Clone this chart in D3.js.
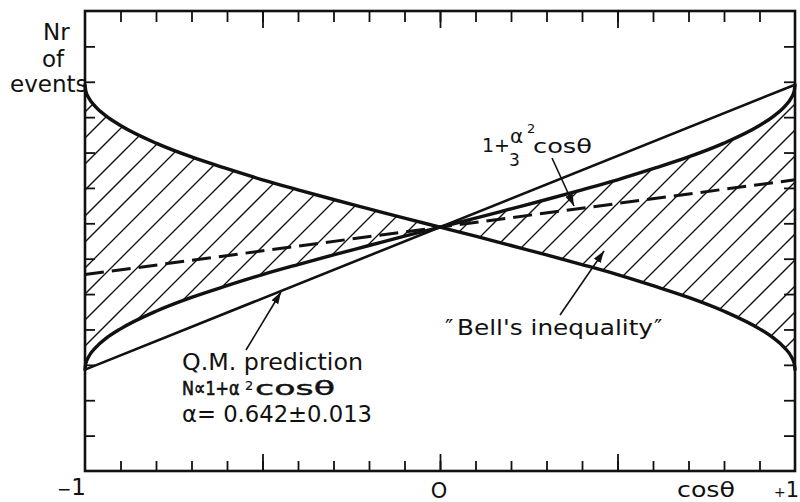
<!DOCTYPE html>
<html><head><meta charset="utf-8">
<script src="https://cdn.jsdelivr.net/npm/d3@7"></script>
<style>
body{margin:0;background:#fff}
svg{display:block}
text{font-family:"DejaVu Sans",sans-serif;fill:#111}
</style>
</head><body>
<svg id="c" width="800" height="502"></svg>
<script>
// ---- data ----
const cosTheta   = [-1,-0.998,-0.99,-0.97,-0.94,-0.9,-0.8,-0.7,-0.6,-0.5,-0.4,-0.3,-0.2,-0.1,0,0.1,0.2,0.3,0.4,0.5,0.6,0.7,0.8,0.9,0.94,0.97,0.99,0.998,1];
const bellFalling= [1.412,1.395,1.375,1.348,1.321,1.294,1.243,1.203,1.169,1.137,1.108,1.080,1.053,1.026,1.000,0.974,0.947,0.920,0.892,0.863,0.831,0.797,0.757,0.706,0.679,0.652,0.625,0.605,0.588];
const bellRising = [0.588,0.605,0.625,0.652,0.679,0.706,0.757,0.797,0.831,0.863,0.892,0.920,0.947,0.974,1.000,1.026,1.053,1.080,1.108,1.137,1.169,1.203,1.243,1.294,1.321,1.348,1.375,1.395,1.412];
const qmX = [-1, 1];
const qmN = [0.588, 1.412];          // 1 + α² cosθ
const thirdX = [-1, 1];
const thirdN = [0.863, 1.137];       // 1 + α²/3 cosθ
const xLabelValues = [-1, 0, 1];
const xLabelTexts  = ["\u22121", "O", "+1"];
const xMinorTicks = [-0.9,-0.8,-0.7,-0.6,-0.5,-0.4,-0.3,-0.2,-0.1,0,0.1,0.2,0.3,0.4,0.5,0.6,0.7,0.8,0.9];
const xMajorTicks = [-0.5, 0, 0.5];

// ---- layout ----
const L = 85, R = 795, T = 11, B = 471;
const svg = d3.select("#c");
const x = d3.scaleLinear().domain([-1, 1]).range([L, R]);
const y = d3.scaleLinear().domain([0.295, 1.625]).range([B, T]);
const ySpan = y.domain()[1] - y.domain()[0];
const yTicks = d3.range(1, 13).map(k => y.domain()[0] + k * ySpan / 13);
const ink = "#111";

const defs = svg.append("defs");
defs.append("marker").attr("id","arr").attr("markerUnits","userSpaceOnUse")
  .attr("markerWidth",14).attr("markerHeight",10).attr("refX",12).attr("refY",4)
  .attr("orient","auto")
  .append("path").attr("d","M0,0 L12,4 L0,8 Z").attr("fill",ink);

const pts = cosTheta.map((c,i)=>({c, a:bellFalling[i], b:bellRising[i]}));
const area = d3.area().x(d=>x(d.c)).y0(d=>y(d.a)).y1(d=>y(d.b)).curve(d3.curveMonotoneX);
defs.append("clipPath").attr("id","band").append("path").attr("d", area(pts));

// hatching
const hatch = svg.append("g").attr("clip-path","url(#band)");
for (let c0 = 353 - 26*40; c0 < 353 + 26*40; c0 += 26) {
  hatch.append("line")
    .attr("x1", c0 - B).attr("y1", B)
    .attr("x2", c0 - T).attr("y2", T)
    .attr("stroke", ink).attr("stroke-width", 1.3);
}

const line = d3.line().x(d=>x(d[0])).y(d=>y(d[1]));
const curve = d3.line().x(d=>x(d.c)).y(d=>y(d.v)).curve(d3.curveMonotoneX);

svg.append("path").attr("d", line(qmX.map((v,i)=>[v, qmN[i]])))
  .attr("fill","none").attr("stroke",ink).attr("stroke-width",2.6);
svg.append("path").attr("d", line(thirdX.map((v,i)=>[v, thirdN[i]])))
  .attr("fill","none").attr("stroke",ink).attr("stroke-width",3)
  .attr("stroke-dasharray","19,8");
svg.append("path").attr("d", curve(pts.map(d=>({c:d.c, v:d.a}))))
  .attr("fill","none").attr("stroke",ink).attr("stroke-width",3.4).attr("stroke-linecap","round");
svg.append("path").attr("d", curve(pts.map(d=>({c:d.c, v:d.b}))))
  .attr("fill","none").attr("stroke",ink).attr("stroke-width",3.4).attr("stroke-linecap","round");

svg.append("rect").attr("x",L).attr("y",T).attr("width",R-L).attr("height",B-T)
  .attr("fill","none").attr("stroke",ink).attr("stroke-width",2.6);

function styleAxis(g){ g.select(".domain").remove(); g.selectAll("text").remove();
  g.selectAll("line").attr("stroke",ink).attr("stroke-width",1.8); }
svg.append("g").attr("transform",`translate(0,${B})`)
  .call(d3.axisBottom(x).tickValues(xMinorTicks).tickSize(-10)).call(styleAxis);
svg.append("g").attr("transform",`translate(0,${B})`)
  .call(d3.axisBottom(x).tickValues(xMajorTicks).tickSize(-17)).call(styleAxis);
svg.append("g").attr("transform",`translate(0,${T})`)
  .call(d3.axisTop(x).tickValues(xMinorTicks).tickSize(-11)).call(styleAxis);
svg.append("g").attr("transform",`translate(0,${T})`)
  .call(d3.axisTop(x).tickValues(xMajorTicks).tickSize(-17)).call(styleAxis);
svg.append("g").attr("transform",`translate(${L},0)`)
  .call(d3.axisLeft(y).tickValues(yTicks).tickSize(-10)).call(styleAxis);
svg.append("g").attr("transform",`translate(${R},0)`)
  .call(d3.axisRight(y).tickValues(yTicks).tickSize(-11)).call(styleAxis);

// axis labels
const m1 = svg.append("text").attr("x", x(xLabelValues[0]) + 1).attr("y", 495).attr("text-anchor","end");
m1.append("tspan").attr("font-size",17).text(xLabelTexts[0].slice(0,1));
m1.append("tspan").attr("font-size",23).text(xLabelTexts[0].slice(1));
svg.append("text").attr("x", x(xLabelValues[1]) - 1).attr("y", 498)
  .attr("text-anchor","middle").attr("font-size",21).text(xLabelTexts[1]);
const p1 = svg.append("text").attr("x", 774).attr("y", 497);
p1.append("tspan").attr("font-size",14).text(xLabelTexts[2].slice(0,1));
p1.append("tspan").attr("font-size",21).text(xLabelTexts[2].slice(1));
svg.append("text").attr("x",677).attr("y",497).attr("font-size",22)
  .attr("textLength",58).attr("lengthAdjust","spacingAndGlyphs").text("cos\u03b8");

// y title
svg.append("text").attr("x",43).attr("y",40).attr("font-size",23).text("Nr");
svg.append("text").attr("x",42).attr("y",67).attr("font-size",23).text("of");
svg.append("text").attr("x",10).attr("y",92).attr("font-size",23).text("events");

// 1 + α²/3 cosθ label
svg.append("text").attr("x",482).attr("y",152).attr("font-size",19).text("1+");
svg.append("text").attr("x",510).attr("y",143).attr("font-size",20).text("\u03b1");
svg.append("text").attr("x",527).attr("y",133).attr("font-size",13).text("2");
svg.append("text").attr("x",509).attr("y",166).attr("font-size",17).text("3");
svg.append("text").attr("x",533).attr("y",153).attr("font-size",20)
  .attr("textLength",59).attr("lengthAdjust","spacingAndGlyphs").text("cos\u03b8");
svg.append("line").attr("x1",552).attr("y1",158).attr("x2",574).attr("y2",206)
  .attr("stroke",ink).attr("stroke-width",1.6).attr("marker-end","url(#arr)");

// Q.M. prediction label
svg.append("text").attr("x",182).attr("y",370).attr("font-size",23)
  .attr("textLength",181).attr("lengthAdjust","spacingAndGlyphs").text("Q.M. prediction");
svg.append("text").attr("transform","translate(182,395) scale(0.8,1)").attr("font-size",20)
  .attr("stroke",ink).attr("stroke-width",0.7).text("N\u221d1+\u03b1");
svg.append("text").attr("x",245).attr("y",390).attr("font-size",13)
  .attr("stroke",ink).attr("stroke-width",0.2).text("2");
svg.append("text").attr("x",255).attr("y",395).attr("font-size",20)
  .attr("stroke",ink).attr("stroke-width",0.4)
  .attr("textLength",80).attr("lengthAdjust","spacingAndGlyphs").text("cos\u03b8");
svg.append("text").attr("x",182).attr("y",422).attr("font-size",23)
  .attr("textLength",190).attr("lengthAdjust","spacingAndGlyphs").text("\u03b1= 0.642\u00b10.013");
svg.append("line").attr("x1",246).attr("y1",350).attr("x2",281).attr("y2",292)
  .attr("stroke",ink).attr("stroke-width",1.6).attr("marker-end","url(#arr)");

// Bell's inequality label
svg.append("text").attr("x",445).attr("y",335).attr("font-size",22).text("\u2033");
svg.append("text").attr("x",457).attr("y",335).attr("font-size",22)
  .attr("textLength",196).attr("lengthAdjust","spacingAndGlyphs").text("Bell's inequality");
svg.append("text").attr("x",654).attr("y",335).attr("font-size",22).text("\u2033");
svg.append("line").attr("x1",560).attr("y1",315).attr("x2",604).attr("y2",251)
  .attr("stroke",ink).attr("stroke-width",1.6).attr("marker-end","url(#arr)");
</script>
</body></html>
